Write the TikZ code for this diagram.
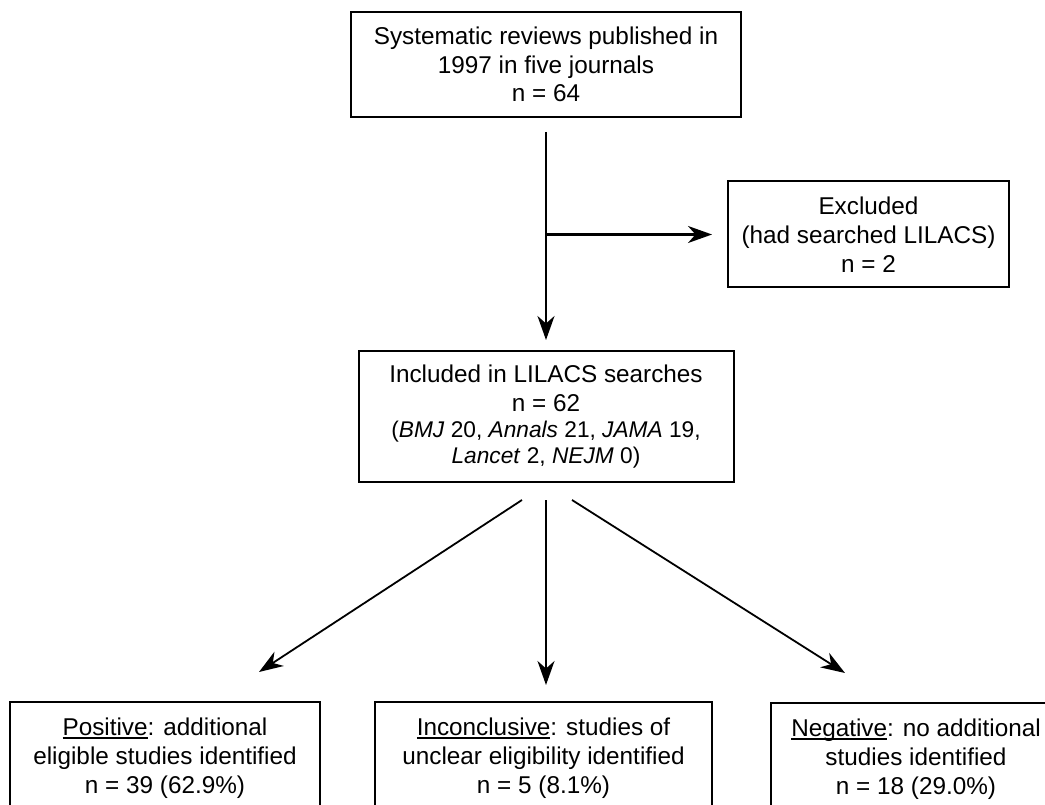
\documentclass[tikz,border=0pt]{standalone}
\usepackage{fontspec}
\setmainfont{Liberation Sans}
\usetikzlibrary{arrows.meta}
\newcommand\myul[1]{\setbox0\hbox{#1}\rlap{\rule[-3.2pt]{\wd0}{1.4pt}}#1}
\begin{document}
\begin{tikzpicture}[x=1pt,y=-1pt,
  box/.style={draw, line width=2pt, inner sep=0pt, outer sep=0pt, align=center,
    font=\fontsize{24.3}{28.8}\selectfont},
  arr/.style={line width=2.1pt, -{Stealth[length=24pt,width=17pt,inset=7.5pt]}}]
\useasboundingbox (0,0) rectangle (1045,805);
\clip (0,0) rectangle (1045,805);

\node[box, minimum width=390pt, minimum height=105pt] (top) at (546,64.5)
  {Systematic reviews published in\\1997 in five journals\\n = 64};
\node[box, minimum width=281pt, minimum height=106pt] (exc) at (868.5,234.5)
  {Excluded\\(had searched LILACS)\\n = 2};
\node[box, minimum width=375pt, minimum height=131pt] (inc) at (546,416.5)
  {Included in LILACS searches\\n = 62\\[-2pt]
   {\fontsize{22.7}{25}\selectfont (\textit{BMJ} 20, \textit{Annals} 21, \textit{JAMA} 19,}\\[-3pt]
   {\fontsize{22.7}{25}\selectfont \textit{Lancet} 2, \textit{NEJM} 0)}};
\node[box, anchor=north, minimum width=310pt, minimum height=112pt] (pos) at (165,702)
  {\myul{Positive}: additional\\eligible studies identified\\n = 39 (62.9\%)};
\node[box, anchor=north, minimum width=337pt, minimum height=112pt] (inco) at (543.5,702)
  {\myul{Inconclusive}: studies of\\unclear eligibility identified\\n = 5 (8.1\%)};
\node[box, anchor=north, minimum width=290pt, minimum height=112pt] (neg) at (916,703)
  {\myul{Negative}: no additional\\studies identified\\n = 18 (29.0\%)};

\coordinate (j) at (546,234.5);
\coordinate (tipL) at (259,672);
\coordinate (tipM) at (546,685);
\coordinate (tipR) at (845,673);

\draw[arr] ([yshift=-15pt]top.south) -- ([yshift=11pt]inc.north);
\draw[arr, shorten >=16pt] (j) -- (j -| exc.west);
\draw[arr, line width=1.8pt] ([xshift=-24pt,yshift=-18pt]inc.south) -- (tipL);
\draw[arr, line width=1.8pt] ([yshift=-18pt]inc.south) -- (tipM);
\draw[arr, line width=1.8pt] ([xshift=26pt,yshift=-18pt]inc.south) -- (tipR);
\end{tikzpicture}
\end{document}
